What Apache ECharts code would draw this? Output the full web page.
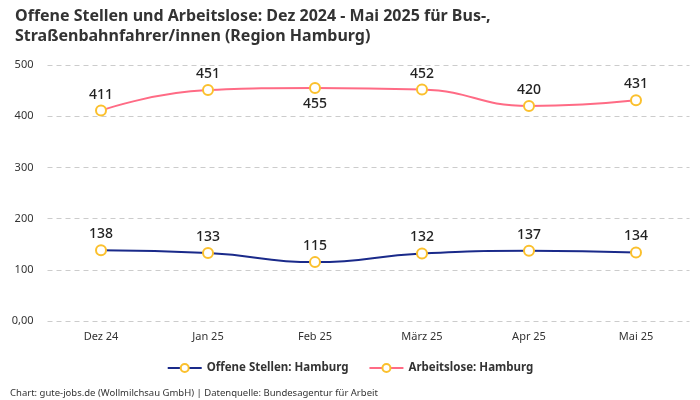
<!DOCTYPE html>
<html><head><meta charset="utf-8">
<script src="https://cdn.jsdelivr.net/npm/echarts@6/dist/echarts.min.js"></script>
<style>html,body{margin:0;padding:0;background:#fff}#c{width:700px;height:400px}</style>
</head><body><div id="c"></div>
<script>
const categories = ['Dez 24','Jan 25','Feb 25','März 25','Apr 25','Mai 25'];
const offeneStellen = [138,133,115,132,137,134];
const arbeitslose = [411,451,455,452,420,431];
const arbeitsloseLabelPos = ['top','top','bottom','top','top','top'];
const yTicks = [0,100,200,300,400,500];

const font = '"Noto Sans", Roboto, sans-serif';
const chart = echarts.init(document.getElementById('c'));
chart.setOption({
  animation:false,
  textStyle:{fontFamily:font},
  title:{
    text:'Offene Stellen und Arbeitslose: Dez 2024 - Mai 2025 für Bus-,\nStraßenbahnfahrer/innen (Region Hamburg)',
    left:10, top:1,
    textStyle:{fontFamily:font,fontSize:16,fontWeight:'bold',color:'#333',lineHeight:20}
  },
  graphic:[{type:'text',left:10,top:388,style:{text:'Chart: gute-jobs.de (Wollmilchsau GmbH) | Datenquelle: Bundesagentur für Arbeit',font:'9.5px '+font,fill:'#333'}}],
  legend:{
    bottom:21, left:'center', itemWidth:34, itemHeight:10, itemGap:20,
    textStyle:{fontFamily:font,fontSize:11.5,fontWeight:'bold',color:'#333'},
    data:['Offene Stellen: Hamburg','Arbeitslose: Hamburg']
  },
  grid:{left:47.5,right:10.5,top:65,bottom:79},
  xAxis:{type:'category',data:categories,boundaryGap:true,
    axisLine:{show:false},axisTick:{show:false},
    axisLabel:{fontSize:11,color:'#333',margin:10}},
  yAxis:{type:'value',min:yTicks[0],max:yTicks[yTicks.length-1],interval:100,
    axisLabel:{fontSize:11,color:'#333',margin:14,formatter:v=>v===0?'0,00':String(v)},
    splitLine:{lineStyle:{type:[5,4],color:'#ccc'}}},
  series:[
    {name:'Offene Stellen: Hamburg',type:'line',smooth:true,data:offeneStellen,
      color:'#1a2a8a',lineStyle:{width:2,color:'#1a2a8a'},
      symbol:'circle',symbolSize:10,
      itemStyle:{color:'#fff',borderColor:'#fbc02d',borderWidth:2},
      label:{show:true,position:'top',distance:3,fontSize:14,fontWeight:500,color:'#222',fontFamily:font}},
    {name:'Arbeitslose: Hamburg',type:'line',smooth:true,
      data:arbeitslose.map((v,i)=>({value:v,label:{position:arbeitsloseLabelPos[i]}})),
      color:'#ff6b85',lineStyle:{width:2,color:'#ff6b85'},
      symbol:'circle',symbolSize:10,
      itemStyle:{color:'#fff',borderColor:'#fbc02d',borderWidth:2},
      label:{show:true,position:'top',distance:3,fontSize:14,fontWeight:500,color:'#222',fontFamily:font}}
  ]
});
</script></body></html>
